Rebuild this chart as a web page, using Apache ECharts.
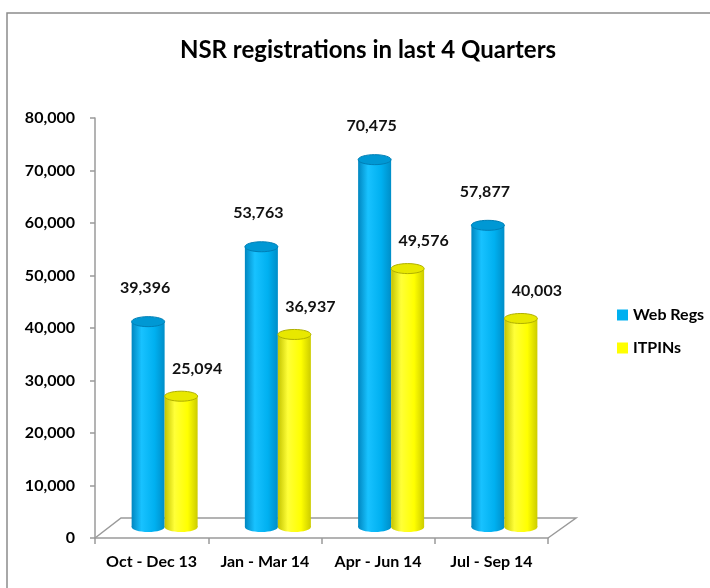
<!DOCTYPE html>
<html>
<head>
<meta charset="utf-8">
<script src="https://cdn.jsdelivr.net/npm/echarts@6/dist/echarts.min.js"></script>
<style>
  html, body { margin: 0; padding: 0; background: #fff; }
  #chart { width: 710px; height: 588px; }
</style>
</head>
<body>
<div id="chart"></div>
<script>
const categories = ['Oct - Dec 13', 'Jan - Mar 14', 'Apr - Jun 14', 'Jul - Sep 14'];
const webRegs = [39396, 53763, 70475, 57877];
const itpins = [25094, 36937, 49576, 40003];
const yTicks = [0, 10000, 20000, 30000, 40000, 50000, 60000, 70000, 80000];

const font = 'Lato, "Noto Sans", sans-serif';
const fmt = v => Number(v).toLocaleString('en-US');

// cylinder look for each series
const looks = [
  {
    shift: -16.5, labelDist: 20, labelDx: -3,
    body: [['#0086c0', 0], ['#18c2ff', 0.3], ['#00b0f0', 0.7], ['#008ec8', 1]],
    top: '#0098d4', rim: '#007fb6',
  },
  {
    shift: 16.5, labelDist: 14, labelDx: 16,
    body: [['#c4c400', 0], ['#ffff38', 0.3], ['#ffff00', 0.7], ['#cccc00', 1]],
    top: '#e8e800', rim: '#b0b000',
  },
];

function cylinder(params, api) {
  const look = looks[params.seriesIndex];
  const idx = api.value(0);
  const val = api.value(1);
  const top = api.coord([idx, val]);
  const base = api.coord([idx, 0]);
  const w = 33;
  const ry = 5;
  const cx = top[0] + look.shift;
  const grad = new echarts.graphic.LinearGradient(0, 0, 1, 0,
    look.body.map(([color, offset]) => ({ offset, color })));
  return {
    type: 'group',
    children: [
      {
        type: 'ellipse',
        shape: { cx, cy: base[1], rx: w / 2, ry },
        style: { fill: grad },
      },
      {
        type: 'rect',
        shape: { x: cx - w / 2, y: top[1], width: w, height: base[1] - top[1] },
        style: { fill: grad },
      },
      {
        type: 'ellipse',
        shape: { cx, cy: top[1], rx: w / 2, ry },
        style: { fill: look.top, stroke: look.rim, lineWidth: 1 },
        textContent: {
          style: {
            text: fmt(val),
            fontFamily: font, fontSize: 16, fontWeight: 'bold', fill: '#111',
          },
        },
        textConfig: { position: 'top', distance: look.labelDist, offset: [look.labelDx, 0] },
      },
    ],
  };
}

const chart = echarts.init(document.getElementById('chart'));

chart.setOption({
  animation: false,
  backgroundColor: '#fff',
  textStyle: { fontFamily: font },
  title: {
    text: 'NSR registrations in last 4 Quarters',
    left: 363,
    top: 33,
    textAlign: 'center',
    textStyle: { fontFamily: font, fontSize: 24, fontWeight: 'bold', color: '#000' },
  },
  legend: {
    orient: 'vertical',
    left: 612,
    top: 302,
    itemWidth: 11,
    itemHeight: 11,
    itemGap: 17,
    itemTextGap: 4,
    icon: 'rect',
    textStyle: { fontFamily: font, fontSize: 16, fontWeight: 'bold', color: '#000' },
    data: [
      { name: 'Web Regs', itemStyle: { color: '#00b0f0' } },
      { name: 'ITPINs', itemStyle: { color: '#ffff00' } },
    ],
  },
  grid: [
    { left: 95, right: 162, top: 118, bottom: 50 },
    { left: 108, right: 149, top: 110, bottom: 61 },
  ],
  xAxis: [{
    type: 'category',
    gridIndex: 0,
    data: categories,
    axisLine: { lineStyle: { color: '#9a9a9a', width: 1.5 } },
    axisTick: { show: true, interval: 0, length: 6, lineStyle: { color: '#9a9a9a', width: 1.5 } },
    axisLabel: { interval: 0, fontFamily: font, fontSize: 16, fontWeight: 'bold', color: '#000', margin: 16 },
  }, {
    type: 'category',
    gridIndex: 1,
    data: categories,
    show: false,
  }],
  yAxis: [{
    type: 'value',
    gridIndex: 0,
    min: 0,
    max: 80000,
    interval: 10000,
    axisLine: { show: true, lineStyle: { color: '#9a9a9a', width: 1.5 } },
    axisTick: { show: true, length: 5, lineStyle: { color: '#9a9a9a', width: 1.5 } },
    splitLine: { show: false },
    axisLabel: {
      fontFamily: font, fontSize: 16, fontWeight: 'bold', color: '#000', margin: 20,
      formatter: v => yTicks.includes(v) ? fmt(v) : '',
    },
  }, {
    type: 'value',
    gridIndex: 1,
    min: 0,
    max: 80000,
    show: false,
  }],
  series: [
    {
      name: 'Web Regs',
      type: 'custom',
      xAxisIndex: 1,
      yAxisIndex: 1,
      renderItem: cylinder,
      encode: { x: 0, y: 1 },
      itemStyle: { color: '#00b0f0' },
      data: webRegs.map((v, i) => [i, v]),
      z: 3,
    },
    {
      name: 'ITPINs',
      type: 'custom',
      xAxisIndex: 1,
      yAxisIndex: 1,
      renderItem: cylinder,
      encode: { x: 0, y: 1 },
      itemStyle: { color: '#ffff00' },
      data: itpins.map((v, i) => [i, v]),
      z: 3,
    },
  ],
  graphic: [
    // chart frame
    {
      type: 'rect', z: -1, silent: true,
      shape: { x: 7, y: 13, width: 720, height: 600 },
      style: { fill: '#fff', stroke: '#8c8c8c', lineWidth: 1.5 },
    },
    // 3d floor
    {
      type: 'polyline', z: 0, silent: true,
      shape: { points: [[95, 538], [121, 518], [576, 518], [548, 538]] },
      style: { stroke: '#9a9a9a', lineWidth: 1.5, fill: null },
    },
  ],
});
</script>
</body>
</html>
